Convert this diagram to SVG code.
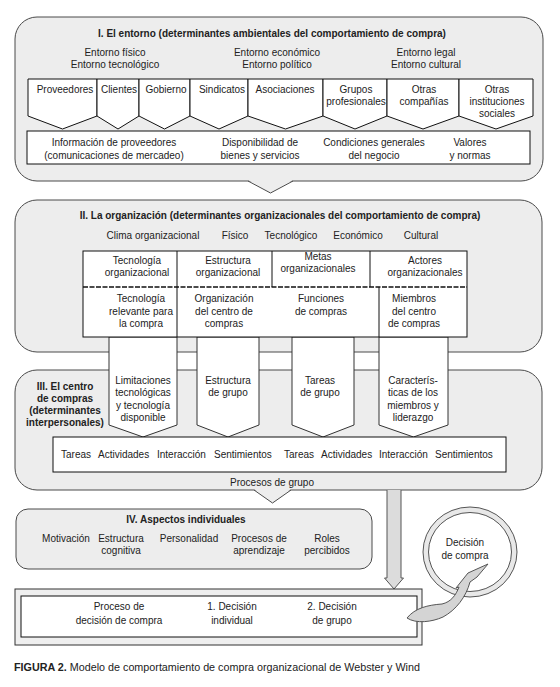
<svg xmlns="http://www.w3.org/2000/svg" width="560" height="687" viewBox="0 0 560 687">
<style>
.sec{fill:#ededed;stroke:#4a4a4a;stroke-width:1}
.box{fill:#fff;stroke:#111;stroke-width:1}
.arr{fill:#fff;stroke:#333;stroke-width:1}
text{font-family:"Liberation Sans",Arial,sans-serif;font-size:10px;fill:#222}
.c{text-anchor:middle}
.b{font-weight:bold}
</style>
<rect width="560" height="687" fill="#fff"/>

<g id="sec1">
<rect class="sec" x="15" y="17" width="528" height="164" rx="22"/>
<text class="c b" x="272" y="37">I. El entorno (determinantes ambientales del comportamiento de compra)</text>
<text class="c" x="115" y="56">Entorno físico</text>
<text class="c" x="115" y="68">Entorno tecnológico</text>
<text class="c" x="277" y="56">Entorno económico</text>
<text class="c" x="277" y="68">Entorno político</text>
<text class="c" x="426" y="56">Entorno legal</text>
<text class="c" x="426" y="68">Entorno cultural</text>
</g>

<g id="env-cells">
<polygon class="box" points="28,79 97,79 97,116 62.5,129 28,116"/>
<polygon class="box" points="97,79 139,79 139,116 118,129 97,116"/>
<polygon class="box" points="139,79 190,79 190,116 164.5,129 139,116"/>
<polygon class="box" points="190,79 248,79 248,116 219,129 190,116"/>
<polygon class="box" points="248,79 323,79 323,116 285.5,129 248,116"/>
<polygon class="box" points="323,79 387,79 387,116 355,129 323,116"/>
<polygon class="box" points="387,79 459,79 459,116 423,129 387,116"/>
<polygon class="box" points="459,79 533,79 533,116 496,129 459,116"/>
<text class="c" x="65" y="93">Proveedores</text>
<text class="c" x="119" y="93">Clientes</text>
<text class="c" x="166" y="93">Gobierno</text>
<text class="c" x="222" y="93">Sindicatos</text>
<text class="c" x="285" y="93">Asociaciones</text>
<text class="c" x="356" y="93">Grupos</text>
<text class="c" x="356" y="105">profesionales</text>
<text class="c" x="424" y="93">Otras</text>
<text class="c" x="424" y="105">compañías</text>
<text class="c" x="497" y="93">Otras</text>
<text class="c" x="497" y="105">instituciones</text>
<text class="c" x="497" y="117">sociales</text>
</g>

<g id="env-info">
<rect class="box" x="27" y="131" width="503" height="33"/>
<text class="c" x="114" y="146">Información de proveedores</text>
<text class="c" x="114" y="158.5">(comunicaciones de mercadeo)</text>
<text class="c" x="260" y="146">Disponibilidad de</text>
<text class="c" x="260" y="158.5">bienes y servicios</text>
<text class="c" x="374" y="146">Condiciones generales</text>
<text class="c" x="374" y="158.5">del negocio</text>
<text class="c" x="470" y="146">Valores</text>
<text class="c" x="470" y="158.5">y normas</text>
</g>

<g id="sec2">
<rect class="sec" x="15" y="200" width="527" height="152" rx="22"/>
<text class="c b" x="280" y="219">II. La organización (determinantes organizacionales del comportamiento de compra)</text>
<text class="c" x="153" y="239">Clima organizacional</text>
<text class="c" x="235" y="239">Físico</text>
<text class="c" x="291" y="239">Tecnológico</text>
<text class="c" x="358" y="239">Económico</text>
<text class="c" x="421" y="239">Cultural</text>
</g>

<g id="sec3">
<rect class="sec" x="15" y="370" width="527" height="120" rx="22"/>
<text class="c b" x="65" y="390">III. El centro</text>
<text class="c b" x="65" y="402">de compras</text>
<text class="c b" x="65" y="414">(determinantes</text>
<text class="c b" x="65" y="425.5">interpersonales)</text>
<text class="c" x="272" y="486">Procesos de grupo</text>
</g>

<g id="connectors">
<polygon fill="#ededed" points="248,180 293,180 270.5,193"/>
<polyline fill="none" stroke="#4a4a4a" points="248,181 270.5,193 293,181"/>
<polygon fill="#ededed" points="254,489 291,489 272.5,503"/>
<polyline fill="none" stroke="#4a4a4a" points="254,490 272.5,503 291,490"/>
<path d="M387,490 L387,578 L384.5,578 L394,589 L403.5,578 L401,578 L401,490" fill="#dcdcdc" stroke="#555" stroke-width="1"/>
</g>

<g id="org-arrows">
<polygon class="arr" points="109,337 177,337 177,425 143,437 109,425"/>
<polygon class="arr" points="197,337 259,337 259,425 228,437 197,425"/>
<polygon class="arr" points="292,337 354,337 354,425 323,437 292,425"/>
<polygon class="arr" points="379,337 448,337 448,425 413.5,437 379,425"/>
<text class="c" x="143" y="383.5">Limitaciones</text>
<text class="c" x="143" y="396">tecnológicas</text>
<text class="c" x="143" y="408.5">y tecnología</text>
<text class="c" x="143" y="421">disponible</text>
<text class="c" x="228" y="383.5">Estructura</text>
<text class="c" x="228" y="396">de grupo</text>
<text class="c" x="320" y="383.5">Tareas</text>
<text class="c" x="320" y="396">de grupo</text>
<text class="c" x="413" y="383.5">Caracterís-</text>
<text class="c" x="413" y="396">ticas de los</text>
<text class="c" x="413" y="408.5">miembros y</text>
<text class="c" x="413" y="421">liderazgo</text>
</g>

<g id="org-table">
<rect class="box" x="83" y="251" width="384" height="86"/>
<line x1="83" y1="287" x2="467" y2="287" stroke="#111" stroke-width="1.4" stroke-dasharray="5 1.5"/>
<g stroke="#111" stroke-width="1">
<line x1="177" y1="251" x2="177" y2="337"/>
<line x1="272" y1="251" x2="272" y2="287"/>
<line x1="370" y1="251" x2="370" y2="287"/>
<line x1="379" y1="287" x2="379" y2="337"/>
</g>
<text class="c" x="137" y="263.5">Tecnología</text>
<text class="c" x="137" y="275.5">organizacional</text>
<text class="c" x="228" y="263.5">Estructura</text>
<text class="c" x="228" y="275.5">organizacional</text>
<text class="c" x="318" y="259.5">Metas</text>
<text class="c" x="318" y="271.5">organizacionales</text>
<text class="c" x="425" y="263.5">Actores</text>
<text class="c" x="425" y="275.5">organizacionales</text>
<text class="c" x="141" y="302">Tecnología</text>
<text class="c" x="141" y="314.5">relevante para</text>
<text class="c" x="141" y="327">la compra</text>
<text class="c" x="224" y="302">Organización</text>
<text class="c" x="224" y="314.5">del centro de</text>
<text class="c" x="224" y="327">compras</text>
<text class="c" x="321" y="302">Funciones</text>
<text class="c" x="321" y="314.5">de compras</text>
<text class="c" x="414" y="302">Miembros</text>
<text class="c" x="414" y="314.5">del centro</text>
<text class="c" x="414" y="327">de compras</text>
</g>

<g id="group-processes">
<rect class="box" x="53" y="437" width="453" height="35"/>
<text x="61" y="458">Tareas</text>
<text x="98" y="458">Actividades</text>
<text x="157" y="458">Interacción</text>
<text x="214" y="458">Sentimientos</text>
<text x="284" y="458">Tareas</text>
<text x="321" y="458">Actividades</text>
<text x="379" y="458">Interacción</text>
<text x="435" y="458">Sentimientos</text>
</g>

<g id="sec4">
<rect class="sec" x="16" y="509" width="356" height="60" rx="12"/>
<text class="c b" x="186" y="523">IV. Aspectos individuales</text>
<text class="c" x="66" y="541.5">Motivación</text>
<text class="c" x="121" y="541.5">Estructura</text>
<text class="c" x="121" y="554">cognitiva</text>
<text class="c" x="189" y="541.5">Personalidad</text>
<text class="c" x="259" y="541.5">Procesos de</text>
<text class="c" x="259" y="554">aprendizaje</text>
<text class="c" x="327" y="541.5">Roles</text>
<text class="c" x="327" y="554">percibidos</text>
</g>

<g id="decision-circle">
<ellipse cx="470" cy="552" rx="47" ry="45" fill="#e8e8e8" stroke="#555"/>
<ellipse cx="470" cy="552" rx="41.5" ry="39.5" fill="#fff" stroke="#555"/>
<text class="c" x="465" y="545.5">Decisión</text>
<text class="c" x="465" y="558.5">de compra</text>
</g>

<g id="decision-process">
<rect x="15" y="589" width="407" height="56" fill="#efefef" stroke="#333"/>
<rect class="box" x="21" y="596" width="396" height="41"/>
<text class="c" x="119" y="610">Proceso de</text>
<text class="c" x="119" y="624">decisión de compra</text>
<text class="c" x="232" y="610">1. Decisión</text>
<text class="c" x="232" y="624">individual</text>
<text class="c" x="332" y="610">2. Decisión</text>
<text class="c" x="332" y="624">de grupo</text>
</g>

<g id="feedback">
<path d="M407,618 C415,608 428,605 442,604 C451,602 456,595 459,587 L456,588 L468,573 L488,564 L477,577 L470,582 C466,597 456,610 443,617 C432,622 416,624 407,618 Z" fill="#d4d4d4" stroke="#555" stroke-width="1"/>
</g>

<text x="14" y="671" textLength="406" lengthAdjust="spacingAndGlyphs" style="font-size:11.5px"><tspan font-weight="bold">FIGURA 2.</tspan> Modelo de comportamiento de compra organizacional de Webster y Wind</text>
</svg>
